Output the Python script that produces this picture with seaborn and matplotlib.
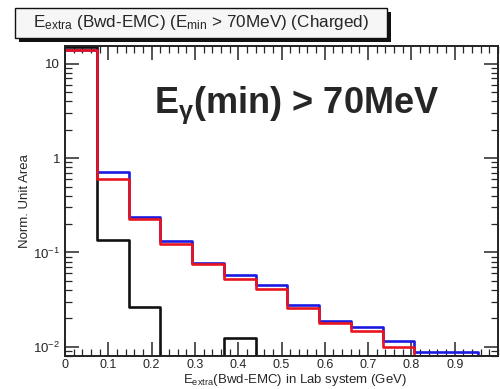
import numpy as np
import pandas as pd
import seaborn as sns
import matplotlib
matplotlib.use("Agg")
import matplotlib.pyplot as plt
from matplotlib.patches import Rectangle
from matplotlib.ticker import MultipleLocator, LogLocator, NullFormatter

sns.set_style("ticks")
plt.rcParams['font.family'] = ['Liberation Sans', 'DejaVu Sans']
plt.rcParams['mathtext.fontset'] = 'custom'
plt.rcParams['mathtext.rm'] = 'Liberation Sans'
plt.rcParams['mathtext.it'] = 'Liberation Sans:italic'
plt.rcParams['mathtext.bf'] = 'Liberation Sans:bold'

# bin edges (GeV)
bin_edges = [0.0, 0.0733, 0.1467, 0.22, 0.2933, 0.3667, 0.44, 0.5133,
             0.5867, 0.66, 0.7333, 0.8067, 0.88, 0.9533, 1.0267]
# normalized contents per bin
black_vals = [15.0, 0.134, 0.0267, 0.0, 0.0, 0.0125, 0.0, 0.0, 0.0, 0.0, 0.0, 0.0, 0.0, 0.0]
blue_vals = [14.0, 0.71, 0.236, 0.131, 0.077, 0.058, 0.0457, 0.028, 0.0189, 0.0163, 0.0116, 0.0089, 0.0089, 0.0]
red_vals = [14.0, 0.60, 0.225, 0.122, 0.076, 0.052, 0.0414, 0.026, 0.018, 0.0148, 0.0100, 0.0, 0.0, 0.0]
x_ticks = [0, 0.1, 0.2, 0.3, 0.4, 0.5, 0.6, 0.7, 0.8, 0.9]
x_tick_labels = ["0", "0.1", "0.2", "0.3", "0.4", "0.5", "0.6", "0.7", "0.8", "0.9"]
y_ticks = [0.01, 0.1, 1, 10]
y_tick_labels = [r"$10^{-2}$", r"$10^{-1}$", "1", "10"]

ymin, ymax = 0.008, 15.5

fig = plt.figure(figsize=(5.0, 3.89), dpi=100)
ax = fig.add_axes([0.13, 0.085, 0.866, 0.797])

edges = list(bin_edges)
centers = [0.5 * (a + b) for a, b in zip(edges[:-1], edges[1:])]
series = [("black", black_vals, "#111111"),
          ("blue", blue_vals, "#1a1ae0"),
          ("red", red_vals, "#e8141e")]
for name, vals, col in series:
    w = np.maximum(np.array(vals), ymin)
    df = pd.DataFrame({"x": centers, "w": w})
    sns.histplot(data=df, x="x", weights="w", bins=edges, element="step",
                 fill=False, color=col, linewidth=1.9, ax=ax)

ax.set_yscale("log")
ax.set_xlim(0, 1.0)
ax.set_ylim(ymin, ymax)

ax.xaxis.set_minor_locator(MultipleLocator(0.02))
ax.set_xticks(x_ticks)
ax.set_xticklabels(x_tick_labels)
ax.yaxis.set_minor_locator(LogLocator(base=10, subs=np.arange(2, 10)))
ax.yaxis.set_minor_formatter(NullFormatter())
ax.set_yticks(y_ticks)
ax.set_yticklabels(y_tick_labels)
ax.tick_params(which="both", direction="in", top=True, right=True, labelsize=9.5)
ax.tick_params(axis="x", which="both", pad=2, labelsize=9)
ax.tick_params(which="major", length=10, width=1.1)
ax.tick_params(which="minor", length=5, width=0.9)
for s in ax.spines.values():
    s.set_linewidth(1.4)
    s.set_color("#222222")

ax.set_ylabel("Norm. Unit Area", fontsize=9.5)
ax.yaxis.set_label_coords(-0.078, 0.50)
ax.set_xlabel(r"E$_{\mathregular{extra}}$(Bwd-EMC) in Lab system (GeV)", fontsize=9.5)
ax.xaxis.set_label_coords(0.79, -0.077)
ax.xaxis.label.set_horizontalalignment("right")
ax.xaxis.label.set_verticalalignment("center")

ax.text(0.205, 0.81, r"E$_{\mathregular{\gamma}}$(min) > 70MeV", transform=ax.transAxes,
        fontsize=26, fontweight="bold", va="center", ha="left")

# title box with shadow
W, H = 500.0, 389.0
fig.patches.append(Rectangle((19 / W, 1 - 42 / H), 372 / W, 30 / H, transform=fig.transFigure,
                             facecolor="#111111", edgecolor="none", zorder=5))
fig.patches.append(Rectangle((15 / W, 1 - 38 / H), 372 / W, 30 / H, transform=fig.transFigure,
                             facecolor="#f6f6f6", edgecolor="#111111", linewidth=1.0, zorder=6))
fig.text(33 / W, 1 - 22 / H, r"E$_{\mathregular{extra}}$ (Bwd-EMC) (E$_{\mathregular{min}}$ > 70MeV) (Charged)",
         fontsize=12.3, va="center", ha="left", zorder=7)

fig.savefig("out.png", dpi=100)
